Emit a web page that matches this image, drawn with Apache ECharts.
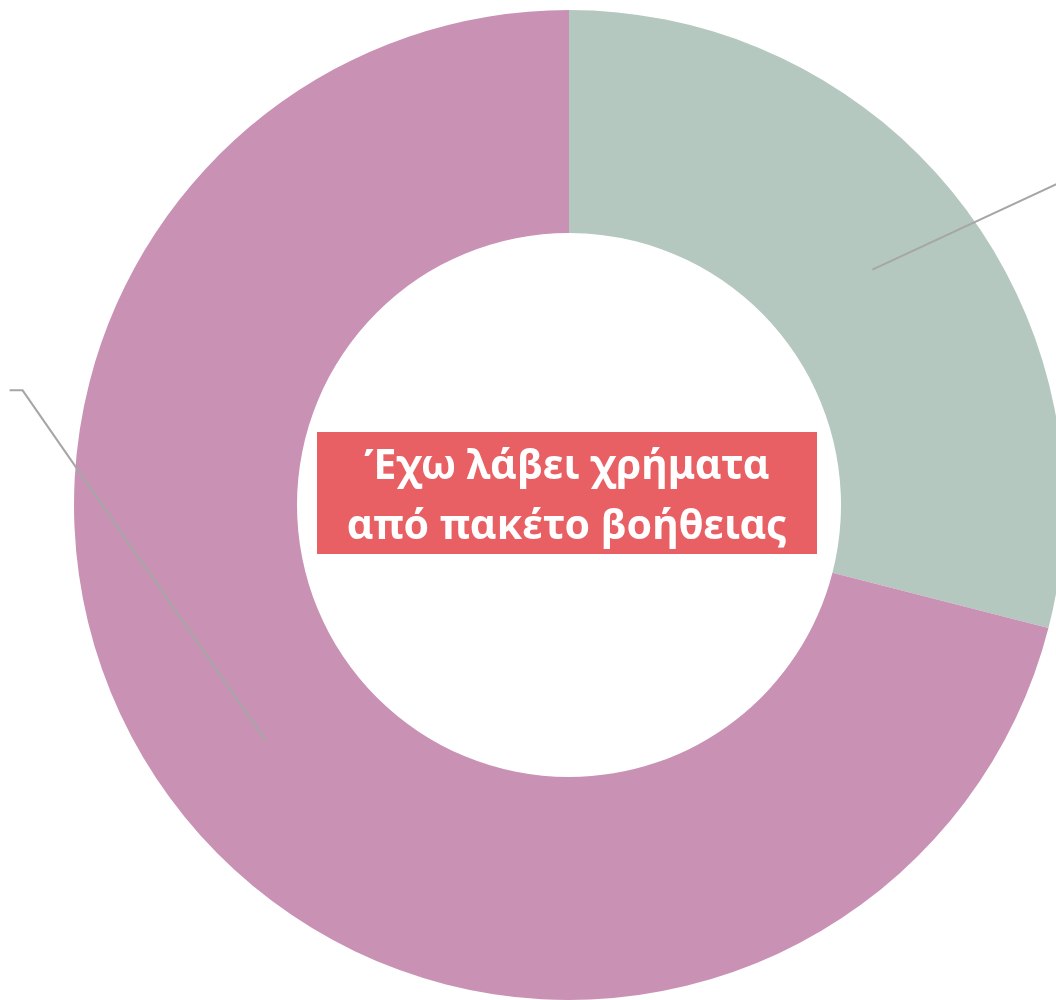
<!DOCTYPE html>
<html>
<head>
<meta charset="utf-8">
<script src="https://cdn.jsdelivr.net/npm/echarts@6/dist/echarts.min.js"></script>
<style>
  html, body { margin: 0; padding: 0; background: #ffffff; }
  #chart { width: 1056px; height: 1000px; }
</style>
</head>
<body>
<div id="chart"></div>
<script>
// data
const categories = ['Ναι', 'Όχι'];
const shares = [29, 71];
const sliceColors = ['#B4C8BF', '#C992B4'];
const centerTitle = 'Έχω λάβει χρήματα\nαπό πακέτο βοήθειας';

const data = categories.map((name, i) => ({ name: name, value: shares[i] }));

// leader line shape, relative to the anchor on the ring's middle
const leaderOffsets = [
  [[256, -119], [256, -119]],
  [[-243, -350], [-256, -350]]
];
const labelSpots = [[1130, 120], [-140, 390]];

const chart = echarts.init(document.getElementById('chart'), null, { renderer: 'canvas' });

const option = {
  backgroundColor: '#ffffff',
  animation: false,
  series: [
    {
      type: 'pie',
      z: 1,
      center: [569, 505],
      radius: [272, 495],
      startAngle: 90,
      clockwise: true,
      silent: true,
      label: { show: false },
      labelLine: { show: false },
      itemStyle: { borderWidth: 0 },
      data: data.map((d, i) => ({ ...d, itemStyle: { color: sliceColors[i] } }))
    },
    {
      // invisible ring used only to anchor the leader lines
      type: 'pie',
      z: 5,
      center: [569, 505],
      radius: [0, 384],
      startAngle: 90,
      clockwise: true,
      silent: true,
      avoidLabelOverlap: false,
      itemStyle: { color: 'rgba(0,0,0,0)' },
      label: {
        show: true,
        position: 'outside',
        formatter: '{b}\n{d}%',
        color: '#595959',
        fontSize: 18
      },
      labelLine: {
        show: true,
        length: 20,
        length2: 10,
        lineStyle: { color: '#A6A6A6', width: 2 }
      },
      labelLayout: function (params) {
        const i = params.dataIndex;
        const p0 = params.labelLinePoints ? params.labelLinePoints[0] : [0, 0];
        const off = leaderOffsets[i];
        return {
          x: labelSpots[i][0],
          y: labelSpots[i][1],
          labelLinePoints: [
            [p0[0], p0[1]],
            [p0[0] + off[0][0], p0[1] + off[0][1]],
            [p0[0] + off[1][0], p0[1] + off[1][1]]
          ]
        };
      },
      data: data
    }
  ],
  graphic: [
    {
      type: 'group',
      left: 317,
      top: 432,
      z: 10,
      children: [
        {
          type: 'rect',
          shape: { x: 0, y: 0, width: 500, height: 122 },
          style: { fill: '#E86064' }
        },
        {
          type: 'text',
          x: 250,
          y: 65,
          style: {
            text: centerTitle,
            fill: '#ffffff',
            font: 'bold 41px "Noto Sans", sans-serif',
            textAlign: 'center',
            textVerticalAlign: 'middle',
            lineHeight: 60
          }
        }
      ]
    }
  ]
};

chart.setOption(option);
</script>
</body>
</html>
